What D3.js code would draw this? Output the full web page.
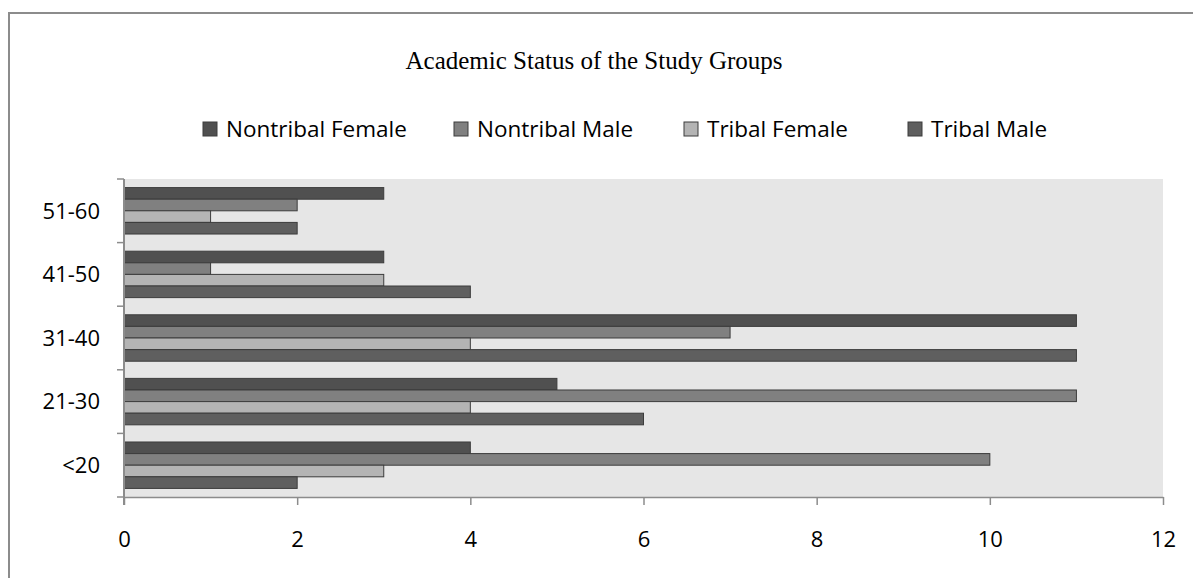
<!DOCTYPE html>
<html>
<head>
<meta charset="utf-8">
<script src="https://cdn.jsdelivr.net/npm/d3@7"></script>
<style>
body { margin:0; background:#fff; }
svg text { fill:#000; }
</style>
</head>
<body>
<script>
var width = 1193;
var height = 578;

// data
var categories = ['<20','21-30','31-40','41-50','51-60'];
var seriesNames = ['Nontribal Female','Nontribal Male','Tribal Female','Tribal Male'];
var nontribalFemale = [4,5,11,3,3];
var nontribalMale = [10,11,7,1,2];
var tribalFemale = [3,4,4,3,1];
var tribalMale = [2,6,11,4,2];
var xTicks = [0,2,4,6,8,10,12];

var seriesValues = [nontribalFemale,nontribalMale,tribalFemale,tribalMale];
var colors = ['#505050','#808080','#b4b4b4','#5f5f5f'];

var rows = categories.map(function(c,i){
	return {cat:c, vals:seriesValues.map(function(s,j){ return {name:seriesNames[j], v:s[i], k:j}; })};
});

var svg = d3.select('body').append('svg')
	.attr('width',width)
	.attr('height',height);

// outer frame
svg.append('path')
	.attr('d','M9,578 V13 H1193')
	.attr('fill','none')
	.attr('stroke','#8c8c8c')
	.attr('stroke-width',2);

svg.append('text')
	.attr('x',594)
	.attr('y',69)
	.attr('text-anchor','middle')
	.style('font-family','"Liberation Serif", "Times New Roman", serif')
	.style('font-size','25px')
	.text('Academic Status of the Study Groups');

var plotL = 124, plotR = 1163, plotT = 179, plotB = 497;

var x = d3.scaleLinear().domain([0,12]).range([plotL,plotR]);
var y = d3.scaleBand().domain(categories.slice().reverse()).range([plotT,plotB]).paddingInner(0.27).paddingOuter(0.135);
var ys = d3.scaleBand().domain(d3.range(4)).range([0,y.bandwidth()]);

svg.append('rect')
	.attr('x',plotL).attr('y',plotT)
	.attr('width',plotR-plotL).attr('height',plotB-plotT)
	.attr('fill','#e6e6e6');

var groups = svg.append('g').selectAll('g')
	.data(rows)
	.enter()
	.append('g')
	.attr('transform',function(d){ return 'translate(0,'+y(d.cat)+')'; });

groups.selectAll('rect')
	.data(function(d){ return d.vals; })
	.enter()
	.append('rect')
	.attr('x',x(0))
	.attr('y',function(d){ return ys(d.k); })
	.attr('width',function(d){ return x(d.v)-x(0); })
	.attr('height',ys.bandwidth())
	.attr('fill',function(d){ return colors[d.k]; })
	.attr('stroke','#3c3c3c')
	.attr('stroke-width',1);

// x axis
var xAxis = svg.append('g')
	.attr('transform','translate(0,'+plotB+')')
	.call(d3.axisBottom(x).tickValues(xTicks).tickSize(8).tickSizeOuter(0).tickPadding(26));
xAxis.selectAll('line,path').attr('stroke','#8c8c8c').attr('stroke-width',1.5);
xAxis.selectAll('text')
	.style('font-family','"Open Sans", sans-serif')
	.style('font-size','22px');

// y axis, ticks sit on the band edges
var edges = categories.map(function(c){ return y(c)-y.step()*y.paddingInner()/2; });
edges.push(plotB);
var yAxis = svg.append('g');
yAxis.append('line')
	.attr('x1',plotL).attr('x2',plotL)
	.attr('y1',plotT).attr('y2',plotB+8)
	.attr('stroke','#8c8c8c').attr('stroke-width',2);
yAxis.selectAll('line.tick')
	.data(edges)
	.enter()
	.append('line')
	.attr('class','tick')
	.attr('x1',plotL-7).attr('x2',plotL)
	.attr('y1',function(d){ return d; }).attr('y2',function(d){ return d; })
	.attr('stroke','#8c8c8c').attr('stroke-width',1.5);
yAxis.selectAll('text')
	.data(categories)
	.enter()
	.append('text')
	.attr('x',100)
	.attr('y',function(d){ return y(d)+y.bandwidth()/2; })
	.attr('dy','0.35em')
	.attr('text-anchor','end')
	.style('font-family','"Open Sans", sans-serif')
	.style('font-size','22px')
	.text(function(d){ return d; });

// legend
var legendX = [203,454,684,908];
var legend = svg.append('g').selectAll('g')
	.data(seriesNames)
	.enter()
	.append('g')
	.attr('transform',function(d,i){ return 'translate('+legendX[i]+',129)'; });
legend.append('rect')
	.attr('x',0).attr('y',-7)
	.attr('width',14).attr('height',14)
	.attr('fill',function(d,i){ return colors[i]; })
	.attr('stroke','#3c3c3c');
legend.append('text')
	.attr('x',23)
	.attr('dy','0.35em')
	.style('font-family','"Open Sans", sans-serif')
	.style('font-size','22.5px')
	.text(function(d){ return d; });
</script>
</body>
</html>
